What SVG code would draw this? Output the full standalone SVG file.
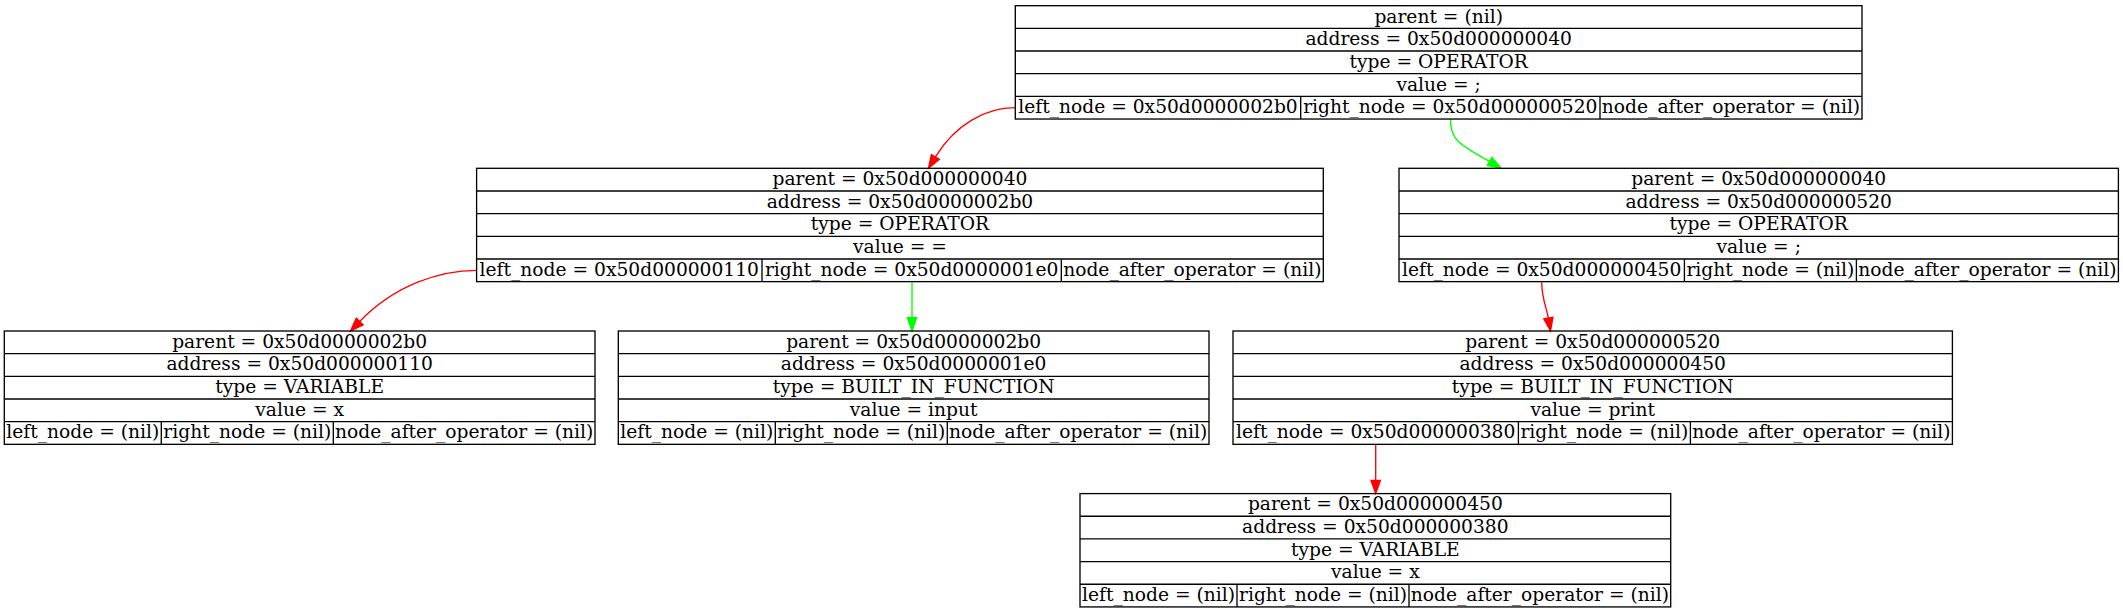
<svg xmlns="http://www.w3.org/2000/svg" width="2123" height="613" viewBox="0 0 2123 613">
<style>
  .bg{fill:#ffffff}
  .box{fill:none;stroke:#000;stroke-width:1.33}
  .ln{stroke:#000;stroke-width:1.33}
  text{font-family:"DejaVu Serif","Liberation Serif",serif;font-size:18.67px;fill:#000;text-anchor:middle}
  .er{fill:none;stroke:#ff0000;stroke-width:1.33}
  .eg{fill:none;stroke:#00ff00;stroke-width:1.33}
  .ar{fill:#ff0000;stroke:#ff0000;stroke-width:1.33}
  .ag{fill:#00ff00;stroke:#00ff00;stroke-width:1.33}
</style>
<rect class="bg" x="0" y="0" width="2123" height="613"/>

<g id="connectors">
  <path class="er" d="M1015.3,107.7 C985,107.7 955,125 935.4,156.9"/>
  <polygon class="ar" points="939.4,159.3 928.5,168.3 931.4,154.5"/>
  <path class="eg" d="M1450.4,119 C1450.4,138 1456,143 1489.6,161.4"/>
  <polygon class="ag" points="1487.2,165.4 1501,168.3 1492,157.4"/>
  <path class="er" d="M476.6,270.3 C440,270.3 395,285 359.7,321.5"/>
  <polygon class="ar" points="363.05,324.8 350.4,331 356.35,318.2"/>
  <path class="eg" d="M912,281.6 L912,317.7"/>
  <polygon class="ag" points="907.3,317.7 916.7,317.7 912,331"/>
  <path class="er" d="M1541.7,282.3 C1541.7,298 1546,306 1548.4,317.9"/>
  <polygon class="ar" points="1553,317.2 1550.5,331 1543.8,318.7"/>
  <path class="er" d="M1375.7,444.3 L1375.7,480.3"/>
  <polygon class="ar" points="1371,480.3 1380.4,480.3 1375.7,493.6"/>
</g>

<g id="node_0x50d000000040">
  <rect class="box" x="1015.3" y="5.7" width="846.7" height="113.33"/>
  <line class="ln" x1="1015.3" y1="28.37" x2="1862" y2="28.37"/>
  <line class="ln" x1="1015.3" y1="51.03" x2="1862" y2="51.03"/>
  <line class="ln" x1="1015.3" y1="73.7" x2="1862" y2="73.7"/>
  <line class="ln" x1="1015.3" y1="96.37" x2="1862" y2="96.37"/>
  <line class="ln" x1="1300.7" y1="96.37" x2="1300.7" y2="119.03"/>
  <line class="ln" x1="1600" y1="96.37" x2="1600" y2="119.03"/>
  <text x="1438.65" y="22.5">parent = (nil)</text>
  <text x="1438.65" y="45.17">address = 0x50d000000040</text>
  <text x="1438.65" y="67.83">type = OPERATOR</text>
  <text x="1438.65" y="90.5">value = ;</text>
  <text x="1158" y="113.17">left_node = 0x50d0000002b0</text>
  <text x="1450.35" y="113.17">right_node = 0x50d000000520</text>
  <text x="1731" y="113.17">node_after_operator = (nil)</text>
</g>

<g id="node_0x50d0000002b0">
  <rect class="box" x="476.6" y="168.3" width="846.7" height="113.33"/>
  <line class="ln" x1="476.6" y1="190.97" x2="1323.3" y2="190.97"/>
  <line class="ln" x1="476.6" y1="213.63" x2="1323.3" y2="213.63"/>
  <line class="ln" x1="476.6" y1="236.3" x2="1323.3" y2="236.3"/>
  <line class="ln" x1="476.6" y1="258.97" x2="1323.3" y2="258.97"/>
  <line class="ln" x1="762" y1="258.97" x2="762" y2="281.63"/>
  <line class="ln" x1="1061.3" y1="258.97" x2="1061.3" y2="281.63"/>
  <text x="899.95" y="185.1">parent = 0x50d000000040</text>
  <text x="899.95" y="207.77">address = 0x50d0000002b0</text>
  <text x="899.95" y="230.43">type = OPERATOR</text>
  <text x="899.95" y="253.1">value = =</text>
  <text x="619.3" y="275.77">left_node = 0x50d000000110</text>
  <text x="911.65" y="275.77">right_node = 0x50d0000001e0</text>
  <text x="1192.3" y="275.77">node_after_operator = (nil)</text>
</g>

<g id="node_0x50d000000520">
  <rect class="box" x="1399" y="168.3" width="719.4" height="113.33"/>
  <line class="ln" x1="1399" y1="190.97" x2="2118.4" y2="190.97"/>
  <line class="ln" x1="1399" y1="213.63" x2="2118.4" y2="213.63"/>
  <line class="ln" x1="1399" y1="236.3" x2="2118.4" y2="236.3"/>
  <line class="ln" x1="1399" y1="258.97" x2="2118.4" y2="258.97"/>
  <line class="ln" x1="1684.4" y1="258.97" x2="1684.4" y2="281.63"/>
  <line class="ln" x1="1856.4" y1="258.97" x2="1856.4" y2="281.63"/>
  <text x="1758.7" y="185.1">parent = 0x50d000000040</text>
  <text x="1758.7" y="207.77">address = 0x50d000000520</text>
  <text x="1758.7" y="230.43">type = OPERATOR</text>
  <text x="1758.7" y="253.1">value = ;</text>
  <text x="1541.7" y="275.77">left_node = 0x50d000000450</text>
  <text x="1770.4" y="275.77">right_node = (nil)</text>
  <text x="1987.4" y="275.77">node_after_operator = (nil)</text>
</g>

<g id="node_0x50d000000110">
  <rect class="box" x="4.3" y="331" width="590.7" height="113.33"/>
  <line class="ln" x1="4.3" y1="353.67" x2="595" y2="353.67"/>
  <line class="ln" x1="4.3" y1="376.33" x2="595" y2="376.33"/>
  <line class="ln" x1="4.3" y1="399" x2="595" y2="399"/>
  <line class="ln" x1="4.3" y1="421.67" x2="595" y2="421.67"/>
  <line class="ln" x1="161.3" y1="421.67" x2="161.3" y2="444.33"/>
  <line class="ln" x1="333.3" y1="421.67" x2="333.3" y2="444.33"/>
  <text x="299.65" y="347.8">parent = 0x50d0000002b0</text>
  <text x="299.65" y="370.47">address = 0x50d000000110</text>
  <text x="299.65" y="393.13">type = VARIABLE</text>
  <text x="299.65" y="415.8">value = x</text>
  <text x="82.8" y="438.47">left_node = (nil)</text>
  <text x="247.3" y="438.47">right_node = (nil)</text>
  <text x="464.15" y="438.47">node_after_operator = (nil)</text>
</g>

<g id="node_0x50d0000001e0">
  <rect class="box" x="618.3" y="331" width="590.7" height="113.33"/>
  <line class="ln" x1="618.3" y1="353.67" x2="1209" y2="353.67"/>
  <line class="ln" x1="618.3" y1="376.33" x2="1209" y2="376.33"/>
  <line class="ln" x1="618.3" y1="399" x2="1209" y2="399"/>
  <line class="ln" x1="618.3" y1="421.67" x2="1209" y2="421.67"/>
  <line class="ln" x1="775.3" y1="421.67" x2="775.3" y2="444.33"/>
  <line class="ln" x1="947.3" y1="421.67" x2="947.3" y2="444.33"/>
  <text x="913.65" y="347.8">parent = 0x50d0000002b0</text>
  <text x="913.65" y="370.47">address = 0x50d0000001e0</text>
  <text x="913.65" y="393.13">type = BUILT_IN_FUNCTION</text>
  <text x="913.65" y="415.8">value = input</text>
  <text x="696.8" y="438.47">left_node = (nil)</text>
  <text x="861.3" y="438.47">right_node = (nil)</text>
  <text x="1078.15" y="438.47">node_after_operator = (nil)</text>
</g>

<g id="node_0x50d000000450">
  <rect class="box" x="1233" y="331" width="719.4" height="113.33"/>
  <line class="ln" x1="1233" y1="353.67" x2="1952.4" y2="353.67"/>
  <line class="ln" x1="1233" y1="376.33" x2="1952.4" y2="376.33"/>
  <line class="ln" x1="1233" y1="399" x2="1952.4" y2="399"/>
  <line class="ln" x1="1233" y1="421.67" x2="1952.4" y2="421.67"/>
  <line class="ln" x1="1518.4" y1="421.67" x2="1518.4" y2="444.33"/>
  <line class="ln" x1="1690.4" y1="421.67" x2="1690.4" y2="444.33"/>
  <text x="1592.7" y="347.8">parent = 0x50d000000520</text>
  <text x="1592.7" y="370.47">address = 0x50d000000450</text>
  <text x="1592.7" y="393.13">type = BUILT_IN_FUNCTION</text>
  <text x="1592.7" y="415.8">value = print</text>
  <text x="1375.7" y="438.47">left_node = 0x50d000000380</text>
  <text x="1604.4" y="438.47">right_node = (nil)</text>
  <text x="1821.4" y="438.47">node_after_operator = (nil)</text>
</g>

<g id="node_0x50d000000380">
  <rect class="box" x="1080" y="493.6" width="590.7" height="113.33"/>
  <line class="ln" x1="1080" y1="516.27" x2="1670.7" y2="516.27"/>
  <line class="ln" x1="1080" y1="538.93" x2="1670.7" y2="538.93"/>
  <line class="ln" x1="1080" y1="561.6" x2="1670.7" y2="561.6"/>
  <line class="ln" x1="1080" y1="584.27" x2="1670.7" y2="584.27"/>
  <line class="ln" x1="1237" y1="584.27" x2="1237" y2="606.93"/>
  <line class="ln" x1="1409" y1="584.27" x2="1409" y2="606.93"/>
  <text x="1375.35" y="510.4">parent = 0x50d000000450</text>
  <text x="1375.35" y="533.07">address = 0x50d000000380</text>
  <text x="1375.35" y="555.73">type = VARIABLE</text>
  <text x="1375.35" y="578.4">value = x</text>
  <text x="1158.5" y="601.07">left_node = (nil)</text>
  <text x="1323" y="601.07">right_node = (nil)</text>
  <text x="1539.85" y="601.07">node_after_operator = (nil)</text>
</g>
</svg>
